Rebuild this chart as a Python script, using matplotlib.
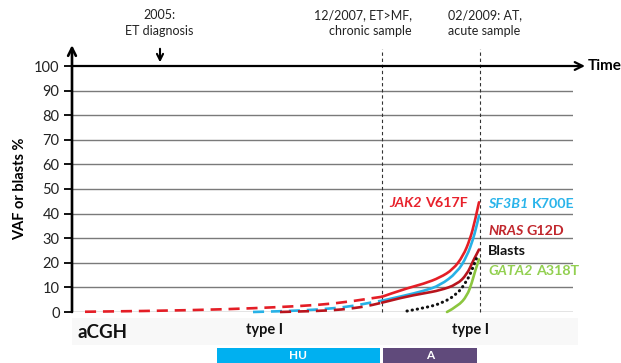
import matplotlib
matplotlib.use("Agg")
import matplotlib.pyplot as plt
from matplotlib.patches import Rectangle, PathPatch
from matplotlib.path import Path

plt.rcParams['font.family'] = ['Lato', 'DejaVu Sans']

W, H = 621, 363

# ---------------- data (timeline in arbitrary units, values in %) ----------------
t_diag, t_chronic, t_acute = 88, 310, 408

jak2_dash_t = [13, 78, 155, 208, 248, 278, 310]
jak2_dash_v = [0.1, 0.4, 1.1, 2.0, 2.9, 4.2, 6.2]
jak2_t = [310, 331, 352, 368, 381, 391, 398, 403, 407]
jak2_v = [6.2, 9.2, 11.5, 14.0, 17.3, 22.7, 29.5, 37.0, 44.6]

sf3b1_dash_t = [181, 211, 248, 278, 298, 310]
sf3b1_dash_v = [0.0, 0.3, 1.0, 2.2, 3.8, 4.6]
sf3b1_t = [310, 331, 352, 368, 385, 395, 401, 404, 407]
sf3b1_v = [4.6, 6.5, 8.6, 10.8, 16.0, 22.7, 29.5, 34.0, 39.0]

nras_dash_t = [208, 248, 270, 288, 300, 310]
nras_dash_v = [0.0, 0.4, 1.0, 1.9, 2.8, 3.8]
nras_t = [310, 331, 352, 368, 385, 395, 401, 404, 407]
nras_v = [3.8, 6.0, 7.6, 8.8, 11.2, 15.3, 20.7, 23.0, 25.4]

blasts_t = [335, 355, 371, 385, 395, 401, 406]
blasts_v = [0.4, 1.8, 3.8, 7.2, 12.6, 18.0, 23.4]

gata2_t = [375, 386, 395, 400, 403, 407]
gata2_v = [0.0, 2.4, 6.5, 12.0, 16.6, 21.4]

yticks = [0, 10, 20, 30, 40, 50, 60, 70, 80, 90, 100]

# ---------------- colours ----------------
c_jak2 = '#e41e26'
c_sf3b1 = '#27b1e6'
c_nras = '#b8141d'
c_blasts = '#111111'
c_gata2 = '#8cc63f'

fig = plt.figure(figsize=(W / 100, H / 100), dpi=100)
fig.patch.set_facecolor('white')

def fx(px):
    return px / W

def fy(py):
    return 1 - py / H

ax = fig.add_axes([fx(72), fy(312), (573 - 72) / W, (312 - 66) / H])
ax.set_xlim(0, 501)
ax.set_ylim(0, 100)
for s in ax.spines.values():
    s.set_visible(False)
ax.set_facecolor('none')

ax.set_yticks(yticks)
ax.set_yticklabels([str(v) for v in yticks], fontsize=10.5, color='#222222')
ax.set_xticks([])
ax.tick_params(axis='y', length=6, width=1.3, color='black', pad=3)
for v in yticks[:-1]:
    ax.axhline(v, color='#7a7a7a', lw=1.0, zorder=1)

# 100 line with time arrow
ax.annotate('', xy=(513, 100), xytext=(0, 100),
            arrowprops=dict(arrowstyle='->', lw=1.6, color='black',
                            mutation_scale=14, shrinkA=0, shrinkB=0),
            annotation_clip=False, zorder=3)
ax.text(516, 100, 'Time', fontsize=11, fontweight='bold', va='center', ha='left')

# y axis arrow
ax.annotate('', xy=(0, 108.5), xytext=(0, 0),
            arrowprops=dict(arrowstyle='->', lw=1.9, color='black',
                            mutation_scale=14, shrinkA=0, shrinkB=0),
            annotation_clip=False, zorder=4)

# vertical dotted sample lines
for tv in (t_chronic, t_acute):
    ax.plot([tv, tv], [0, 107], color='#333333', lw=0.8, ls=(0, (3, 2.5)),
            clip_on=False, zorder=2)

# diagnosis arrow
ax.annotate('', xy=(t_diag, 101.5), xytext=(t_diag, 107),
            arrowprops=dict(arrowstyle='->', lw=1.5, color='black',
                            mutation_scale=11, shrinkA=0, shrinkB=0),
            annotation_clip=False)


def smooth_curve(ts, vs, color, lw=1.9, ls='solid', capstyle='round', z=5):
    """Draw a smooth quadratic B-spline path guided by the data points."""
    pts = list(zip(ts, vs))
    verts = [pts[0]]
    codes = [Path.MOVETO]
    if len(pts) == 2:
        verts.append(pts[1])
        codes.append(Path.LINETO)
    else:
        for i in range(1, len(pts) - 2):
            mid = ((pts[i][0] + pts[i + 1][0]) / 2, (pts[i][1] + pts[i + 1][1]) / 2)
            verts += [pts[i], mid]
            codes += [Path.CURVE3, Path.CURVE3]
        verts += [pts[-2], pts[-1]]
        codes += [Path.CURVE3, Path.CURVE3]
    patch = PathPatch(Path(verts, codes), fill=False, edgecolor=color, lw=lw,
                      linestyle=ls, capstyle=capstyle, joinstyle='round',
                      zorder=z, clip_on=False, transform=ax.transData)
    ax.add_patch(patch)


dash = (0, (4.2, 2.6))
smooth_curve(jak2_dash_t, jak2_dash_v, c_jak2, ls=dash, capstyle='butt')
smooth_curve(sf3b1_dash_t, sf3b1_dash_v, c_sf3b1, ls=dash, capstyle='butt')
smooth_curve(nras_dash_t, nras_dash_v, c_nras, ls=dash, capstyle='butt')
smooth_curve(jak2_t, jak2_v, c_jak2)
smooth_curve(sf3b1_t, sf3b1_v, c_sf3b1)
smooth_curve(nras_t, nras_v, c_nras)
smooth_curve(gata2_t, gata2_v, c_gata2)
smooth_curve(blasts_t, blasts_v, c_blasts, lw=2.2, ls=(0, (0.1, 1.6)), z=6)

# y label
fig.text(fx(20), fy(189), 'VAF or blasts %', rotation=90, fontsize=10.5,
         fontweight='bold', ha='center', va='center')

# top annotations
fig.text(fx(159), fy(23), '2005:\nET diagnosis', fontsize=9, ha='center',
         va='center', linespacing=1.45, color='#222222')
fig.text(fx(412), fy(23), '12/2007, ET>MF,\nchronic sample', fontsize=9,
         ha='right', va='center', multialignment='right', linespacing=1.45,
         color='#222222')
fig.text(fx(448), fy(23), '02/2009: AT,\nacute sample', fontsize=9,
         ha='left', va='center', multialignment='left', linespacing=1.45,
         color='#222222')

# mutation labels
renderer = fig.canvas.get_renderer()
LFS = 10.3

def two_part(x_px, y_px, ital, normal, color, align='left'):
    if align == 'left':
        t1 = fig.text(fx(x_px), fy(y_px), ital, fontsize=LFS, fontweight='bold',
                      fontstyle='italic', color=color, ha='left', va='center')
        bb = t1.get_window_extent(renderer)
        fig.text((bb.x1 + 3.5) / W, fy(y_px), normal, fontsize=LFS,
                 fontweight='bold', color=color, ha='left', va='center')
    else:
        t2 = fig.text(fx(x_px), fy(y_px), normal, fontsize=LFS, fontweight='bold',
                      color=color, ha='right', va='center')
        bb = t2.get_window_extent(renderer)
        fig.text((bb.x0 - 3.5) / W, fy(y_px), ital, fontsize=LFS,
                 fontweight='bold', fontstyle='italic', color=color,
                 ha='right', va='center')

two_part(468, 203, 'JAK2', 'V617F', '#e8212b', align='right')
two_part(488, 204, 'SF3B1', 'K700E', '#2ab4ea')
two_part(488, 231, 'NRAS', 'G12D', '#c1272d')
fig.text(fx(488), fy(251), 'Blasts', fontsize=LFS, fontweight='bold',
         color='#111111', ha='left', va='center')
two_part(488, 271, 'GATA2', 'A318T', '#92d050')

# bottom aCGH band
fig.patches.append(Rectangle((fx(72), fy(345)), (578 - 72) / W, (345 - 318) / H,
                             transform=fig.transFigure, facecolor='#f8f8f8',
                             edgecolor='none', zorder=0))
fig.text(fx(78), fy(332), 'aCGH', fontsize=13.5, fontweight='bold',
         ha='left', va='center', color='#111111')
fig.text(fx(265), fy(330), 'type I', fontsize=10.5, fontweight='bold',
         ha='center', va='center', color='#111111')
fig.text(fx(470), fy(330), 'type I', fontsize=10.5, fontweight='bold',
         ha='center', va='center', color='#111111')

# treatment bars
fig.patches.append(Rectangle((fx(217), 0), (380 - 217) / W, (363 - 348) / H,
                             transform=fig.transFigure, facecolor='#00b0f0',
                             edgecolor='none'))
fig.patches.append(Rectangle((fx(383), 0), (477 - 383) / W, (363 - 348) / H,
                             transform=fig.transFigure, facecolor='#604a7b',
                             edgecolor='none'))
fig.text(fx(298), fy(355.5), 'HU', fontsize=8.5, fontweight='bold', color='white',
         ha='center', va='center')
fig.text(fx(430), fy(355.5), 'A', fontsize=8.5, fontweight='bold', color='white',
         ha='center', va='center')

fig.savefig('out.png', dpi=100)
